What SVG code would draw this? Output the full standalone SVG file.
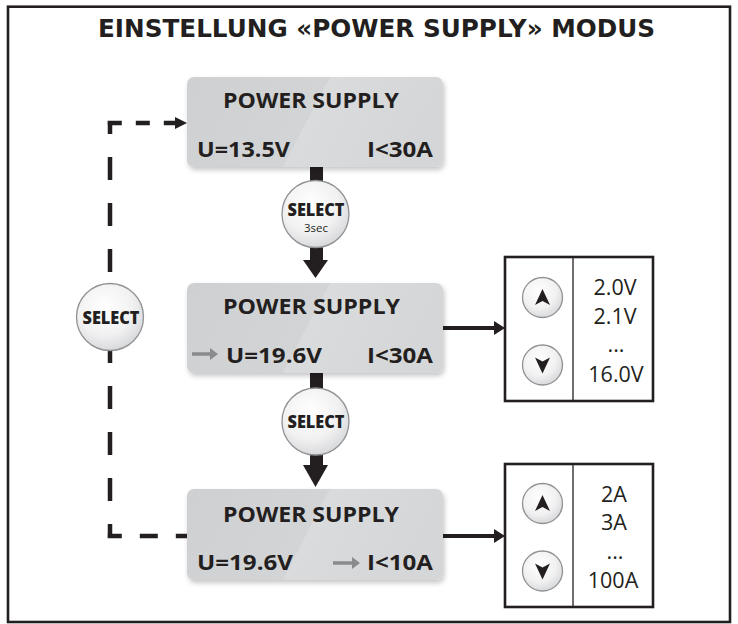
<svg xmlns="http://www.w3.org/2000/svg" width="738" height="624" viewBox="0 0 738 624">
<style>
.frame{fill:#fff;stroke:#231f20;stroke-width:2.6}
.title{font-family:"DejaVu Sans",Verdana,sans-serif;font-weight:bold;font-size:24px;fill:#231f20}
.lcd{fill:url(#lcdGrad);filter:url(#shadow)}
.bt{font-family:"Open Sans","Liberation Sans",sans-serif;font-weight:bold;font-size:22px;fill:#231f20}
.btn{fill:url(#btnGrad);stroke:#8f9193;stroke-width:1.3}
.sel{font-family:"Open Sans","Liberation Sans",sans-serif;font-weight:800;font-size:17px;fill:#231f20;text-anchor:middle}
.sec{font-family:"Open Sans","Liberation Sans",sans-serif;font-size:11.5px;fill:#231f20;text-anchor:middle}
.vbox{fill:#fff;stroke:#231f20;stroke-width:2.6}
.div{stroke:#231f20;stroke-width:1.3}
.val{font-family:"Open Sans","Liberation Sans",sans-serif;font-size:21.5px;fill:#231f20;text-anchor:middle}
.tri{fill:#231f20}
.gray{fill:#8a8b8d}
.dash{fill:none;stroke:#231f20;stroke-width:4.5}
.solid{fill:#231f20}
</style>
<defs>
<linearGradient id="lcdGrad" x1="0" y1="0" x2="1" y2="0.184">
<stop offset="0" stop-color="#cfd0d2"/>
<stop offset="0.54" stop-color="#d3d4d6"/>
<stop offset="0.54" stop-color="#dadbdd"/>
<stop offset="1" stop-color="#d5d6d8"/>
</linearGradient>
<radialGradient id="btnGrad" cx="0.42" cy="0.35" r="0.7">
<stop offset="0" stop-color="#ffffff"/>
<stop offset="0.6" stop-color="#f1f1f2"/>
<stop offset="1" stop-color="#d4d5d7"/>
</radialGradient>
<filter id="shadow" x="-10%" y="-10%" width="125%" height="135%">
<feDropShadow dx="1.5" dy="3" stdDeviation="2.5" flood-color="#000" flood-opacity="0.22"/>
</filter>
</defs>

<rect class="frame" x="8" y="6.7" width="722" height="615.3"/>

<g id="title">
<text class="title" x="98" y="36.5" textLength="557" lengthAdjust="spacingAndGlyphs">EINSTELLUNG «POWER SUPPLY» MODUS</text>
</g>

<g id="connectors">
<path class="dash" d="M110,283 V121" stroke-dasharray="23 23" stroke-dashoffset="35"/>
<path class="dash" d="M107.8,123 H178" stroke-dasharray="14 14"/>
<polygon class="solid" points="175,117 187,123 175,129"/>
<path class="dash" d="M110,351 V538" stroke-dasharray="23 23" stroke-dashoffset="11"/>
<path class="dash" d="M107.8,536 H187" stroke-dasharray="14 18 18 18 20"/>
<rect class="solid" x="310" y="166" width="13" height="16"/>
<rect class="solid" x="310" y="246" width="13" height="15"/>
<polygon class="solid" points="303,260 328,260 315.5,278"/>
<rect class="solid" x="310" y="372" width="13" height="17"/>
<rect class="solid" x="310" y="454" width="13" height="12"/>
<polygon class="solid" points="303,465 328,465 315.5,487"/>
<rect class="solid" x="443" y="326" width="53" height="4"/>
<polygon class="solid" points="494,321 505,328 494,335"/>
<rect class="solid" x="443" y="534" width="53" height="4"/>
<polygon class="solid" points="494,529 505,536 494,543"/>
</g>

<g id="box1">
<rect class="lcd" x="187" y="77" width="256" height="90" rx="7"/>
<text class="bt" x="223" y="107.5" textLength="176" lengthAdjust="spacingAndGlyphs">POWER SUPPLY</text>
<text class="bt" x="197" y="157" textLength="93" lengthAdjust="spacingAndGlyphs">U=13.5V</text>
<text class="bt" x="367" y="157" textLength="66" lengthAdjust="spacingAndGlyphs">I&lt;30A</text>
</g>

<g id="box2">
<rect class="lcd" x="187" y="283" width="256" height="90" rx="7"/>
<text class="bt" x="223" y="313.5" textLength="177" lengthAdjust="spacingAndGlyphs">POWER SUPPLY</text>
<path class="gray" d="M192,352.3 H210 V348 L218,354 L210,360 V355.7 H192 Z"/>
<text class="bt" x="226" y="363" textLength="96" lengthAdjust="spacingAndGlyphs">U=19.6V</text>
<text class="bt" x="367" y="363" textLength="66" lengthAdjust="spacingAndGlyphs">I&lt;30A</text>
</g>

<g id="box3">
<rect class="lcd" x="187" y="489" width="256" height="91" rx="7"/>
<text class="bt" x="223" y="521.5" textLength="176" lengthAdjust="spacingAndGlyphs">POWER SUPPLY</text>
<text class="bt" x="197" y="570" textLength="96" lengthAdjust="spacingAndGlyphs">U=19.6V</text>
<path class="gray" d="M333,561.3 H352 V557 L360,563 L352,569 V564.7 H333 Z"/>
<text class="bt" x="367" y="570" textLength="66" lengthAdjust="spacingAndGlyphs">I&lt;10A</text>
</g>

<g id="select3sec">
<circle class="btn" cx="315.5" cy="214" r="33.5"/>
<text class="sel" x="316" y="215.5" textLength="57" lengthAdjust="spacingAndGlyphs">SELECT</text>
<text class="sec" x="316" y="231.5">3sec</text>
</g>

<g id="select2">
<circle class="btn" cx="315.5" cy="421.5" r="33.5"/>
<text class="sel" x="316" y="428" textLength="57" lengthAdjust="spacingAndGlyphs">SELECT</text>
</g>

<g id="selectLeft">
<circle class="btn" cx="110" cy="317" r="33.5"/>
<text class="sel" x="111" y="323.5" textLength="57" lengthAdjust="spacingAndGlyphs">SELECT</text>
</g>

<g id="voltageBox">
<rect class="vbox" x="505" y="257" width="148" height="144"/>
<line class="div" x1="573" y1="257" x2="573" y2="401"/>
<circle class="btn" cx="542.5" cy="297.5" r="20"/>
<polygon class="tri" points="542.5,289 550,305 542.5,301 535,305"/>
<circle class="btn" cx="542.5" cy="365" r="20"/>
<polygon class="tri" points="542.5,373.5 550,357.5 542.5,361.5 535,357.5"/>
<text class="val" x="615" y="295">2.0V</text>
<text class="val" x="615" y="324">2.1V</text>
<text class="val" x="616" y="352">...</text>
<text class="val" x="616" y="382">16.0V</text>
</g>

<g id="currentBox">
<rect class="vbox" x="505" y="464" width="148" height="143"/>
<line class="div" x1="573" y1="464" x2="573" y2="607"/>
<circle class="btn" cx="542.5" cy="503.5" r="20"/>
<polygon class="tri" points="542.5,495 550,511 542.5,507 535,511"/>
<circle class="btn" cx="542.5" cy="571" r="20"/>
<polygon class="tri" points="542.5,579.5 550,563.5 542.5,567.5 535,563.5"/>
<text class="val" x="614" y="502">2A</text>
<text class="val" x="614" y="530">3A</text>
<text class="val" x="615" y="559">...</text>
<text class="val" x="613" y="588">100A</text>
</g>
</svg>
